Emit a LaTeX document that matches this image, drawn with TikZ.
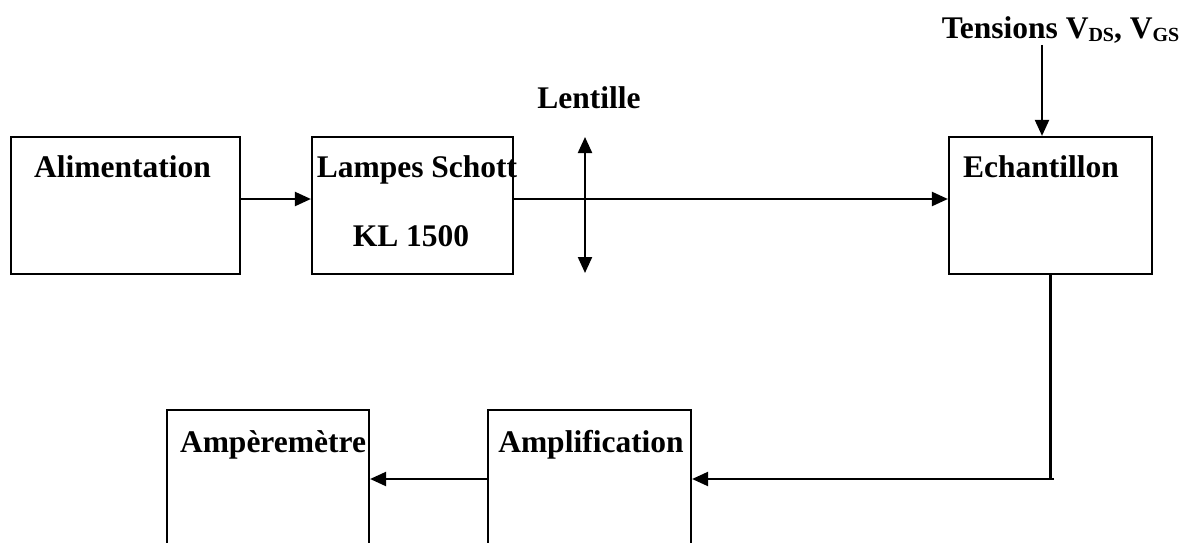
\documentclass[tikz,border=0pt]{standalone}
\usepackage{fontspec}
\setmainfont{Liberation Serif}
\usetikzlibrary{arrows.meta}
\newcommand{\subsc}[1]{\raisebox{-3pt}{\fontsize{20}{20}\selectfont #1}}
\begin{document}
\begin{tikzpicture}[x=1pt,y=-1pt,
  box/.style={draw=black,line width=2.2pt,minimum height=137pt,inner sep=0pt},
  lbl/.style={anchor=base,inner sep=0pt,font=\fontsize{31.5}{36}\selectfont\bfseries},
  arr/.style={line width=2.2pt,-{Triangle[length=16pt,width=14pt]}},
  dbl/.style={line width=2.2pt,{Triangle[length=16pt,width=14pt]}-{Triangle[length=16pt,width=14pt]}},
  ln/.style={line width=2.2pt}]
\useasboundingbox (0,0) rectangle (1191,543);
\clip (0,0) rectangle (1191,543);
% boxes
\node[box,minimum width=229pt] (alim) at (125.5,205.5) {};
\node[box,minimum width=201pt] (lamp) at (412.5,205.5) {};
\node[box,minimum width=203pt] (ech) at (1050.5,205.5) {};
\node[box,minimum width=202pt,minimum height=138pt] (amper) at (268,479) {};
\node[box,minimum width=203pt,minimum height=138pt] (ampl) at (589.5,479) {};
% labels
\node[lbl] (talim) at (122.5,177) {Alimentation};
\node[lbl] (tlamp) at (417,177) {Lampes Schott};
\node[lbl] (tkl) at (411,246) {KL 1500};
\node[lbl] (tech) at (1041,177) {Echantillon};
\node[lbl] (tlens) at (589,108) {Lentille};
\node[lbl] (tamper) at (273,452) {Ampèremètre};
\node[lbl] (tampl) at (591,452) {Amplification};
\node[lbl] (ttens) at (1060.5,39) {Tensions V\subsc{DS}, V\subsc{GS}};
% coordinates
\coordinate (axis) at (0,199);
\coordinate (lenstop) at (585,137);
\coordinate (lensbot) at (585,273);
\coordinate (tensstart) at (1042,45);
\coordinate (corner) at (1050.5,479);
\coordinate (cornerend) at (1054,479);
% connectors
\draw[arr] (alim.east |- axis) -- (lamp.west |- axis);
\draw[arr] (lamp.east |- axis) -- (ech.west |- axis);
\draw[dbl] (lenstop) -- (lensbot);
\draw[arr] (tensstart) -- (ech.north -| tensstart);
\draw[ln] (ech.south) -- (corner);
\draw[arr] (cornerend) -- (ampl.east);
\draw[arr] (ampl.west) -- (amper.east);
\end{tikzpicture}
\end{document}
